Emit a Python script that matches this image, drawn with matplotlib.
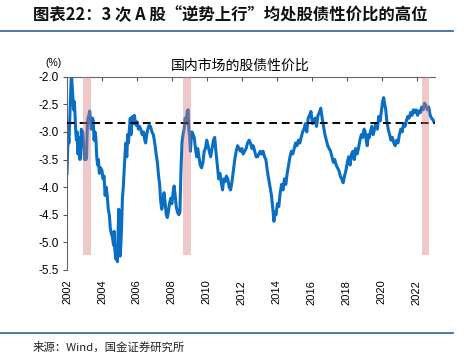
import numpy as np
import matplotlib
matplotlib.use('Agg')
import matplotlib.pyplot as plt

plt.rcParams['font.family'] = ['Liberation Sans', 'Noto Sans CJK SC', 'DejaVu Sans']

# ---- data ----
t = [2002.00, 2002.04, 2002.07, 2002.11, 2002.15, 2002.19, 2002.23, 2002.26, 2002.30, 2002.34,
     2002.38, 2002.42, 2002.46, 2002.50, 2002.54, 2002.58, 2002.62, 2002.66, 2002.70, 2002.74,
     2002.78, 2002.82, 2002.86, 2002.90, 2002.95, 2003.00, 2003.04, 2003.08, 2003.12, 2003.16,
     2003.20, 2003.25, 2003.30, 2003.34, 2003.38, 2003.42, 2003.46, 2003.50, 2003.55, 2003.60,
     2003.65, 2003.70, 2003.75, 2003.80, 2003.85, 2003.92, 2004.00, 2004.06, 2004.12, 2004.18,
     2004.24, 2004.30, 2004.36, 2004.42, 2004.48, 2004.54, 2004.60, 2004.66, 2004.70, 2004.74,
     2004.79, 2004.84, 2004.88, 2004.92, 2004.96, 2005.00, 2005.04, 2005.08, 2005.12, 2005.17,
     2005.22, 2005.27, 2005.32, 2005.37, 2005.42, 2005.47, 2005.52, 2005.57, 2005.62, 2005.66,
     2005.70, 2005.75, 2005.80, 2005.85, 2005.90, 2005.96, 2006.02, 2006.08, 2006.15, 2006.22,
     2006.30, 2006.38, 2006.45, 2006.50, 2006.56, 2006.62, 2006.70, 2006.78, 2006.86, 2006.94,
     2007.02, 2007.10, 2007.17, 2007.24, 2007.30, 2007.36, 2007.42, 2007.48, 2007.55, 2007.62,
     2007.68, 2007.74, 2007.80, 2007.86, 2007.94, 2008.00, 2008.07, 2008.13, 2008.19, 2008.25,
     2008.32, 2008.40, 2008.46, 2008.52, 2008.58, 2008.64, 2008.70, 2008.76, 2008.82, 2008.88,
     2008.93, 2008.97, 2009.02, 2009.06, 2009.10, 2009.15, 2009.22, 2009.28, 2009.35, 2009.42,
     2009.48, 2009.55, 2009.62, 2009.70, 2009.78, 2009.85, 2009.92, 2010.00, 2010.07, 2010.14,
     2010.22, 2010.30, 2010.38, 2010.45, 2010.52, 2010.60, 2010.68, 2010.75, 2010.82, 2010.90,
     2010.97, 2011.05, 2011.12, 2011.20, 2011.28, 2011.36, 2011.44, 2011.52, 2011.60, 2011.68,
     2011.76, 2011.84, 2011.92, 2012.00, 2012.08, 2012.16, 2012.25, 2012.33, 2012.42, 2012.50,
     2012.58, 2012.66, 2012.74, 2012.82, 2012.90, 2012.98, 2013.06, 2013.14, 2013.22, 2013.30,
     2013.38, 2013.46, 2013.54, 2013.62, 2013.70, 2013.78, 2013.84, 2013.90, 2013.96, 2014.04,
     2014.12, 2014.20, 2014.28, 2014.36, 2014.44, 2014.52, 2014.60, 2014.68, 2014.76, 2014.84,
     2014.92, 2015.00, 2015.08, 2015.16, 2015.24, 2015.32, 2015.40, 2015.48, 2015.56, 2015.64,
     2015.72, 2015.80, 2015.88, 2015.96, 2016.04, 2016.12, 2016.20, 2016.28, 2016.36, 2016.44,
     2016.52, 2016.60, 2016.68, 2016.76, 2016.84, 2016.92, 2017.00, 2017.08, 2017.16, 2017.24,
     2017.32, 2017.40, 2017.48, 2017.56, 2017.64, 2017.72, 2017.80, 2017.88, 2017.96, 2018.04,
     2018.12, 2018.20, 2018.28, 2018.36, 2018.44, 2018.52, 2018.60, 2018.68, 2018.76, 2018.84,
     2018.92, 2019.00, 2019.06, 2019.12, 2019.18, 2019.24, 2019.30, 2019.36, 2019.44, 2019.52,
     2019.60, 2019.68, 2019.76, 2019.84, 2019.92, 2020.00, 2020.06, 2020.12, 2020.18, 2020.24,
     2020.30, 2020.38, 2020.46, 2020.54, 2020.62, 2020.70, 2020.78, 2020.86, 2020.94, 2021.02,
     2021.10, 2021.18, 2021.26, 2021.34, 2021.42, 2021.50, 2021.58, 2021.66, 2021.74, 2021.82,
     2021.90, 2021.98, 2022.06, 2022.14, 2022.22, 2022.30, 2022.38, 2022.46, 2022.54, 2022.62,
     2022.70, 2022.78, 2022.86, 2022.94, 2023.00]
v = [-3.75, -3.30, -3.05, -3.20, -2.85, -2.45, -2.10, -1.98, -2.20, -2.40,
     -2.60, -2.45, -2.70, -3.00, -3.15, -3.00, -3.40, -3.20, -3.10, -3.50,
     -3.30, -2.95, -3.10, -3.00, -3.20, -3.50, -3.30, -3.50, -3.45, -2.90,
     -2.75, -2.70, -2.62, -2.80, -2.95, -2.85, -2.75, -2.80, -3.15, -3.00,
     -3.10, -3.45, -3.60, -3.50, -3.75, -3.65, -3.70, -3.85, -3.80, -4.15,
     -4.00, -4.15, -4.40, -4.50, -4.75, -4.85, -4.90, -5.05, -4.80, -5.15,
     -5.30, -5.10, -5.35, -4.90, -4.40, -5.00, -5.25, -5.05, -4.75, -4.20,
     -4.00, -3.70, -3.40, -3.20, -3.45, -3.05, -3.20, -2.95, -2.75, -3.05,
     -2.85, -2.72, -2.85, -2.70, -2.80, -2.88, -2.82, -2.95, -2.90, -2.95,
     -3.05, -3.00, -3.15, -3.20, -3.05, -2.95, -2.88, -2.90, -3.00, -3.05,
     -3.20, -3.40, -3.55, -3.80, -3.95, -4.25, -4.40, -4.30, -4.10, -4.30,
     -4.50, -4.55, -4.45, -4.30, -4.20, -4.30, -4.10, -3.98, -4.15, -4.35,
     -4.45, -4.50, -4.45, -3.70, -3.20, -3.05, -2.95, -2.75, -2.85, -2.62,
     -2.60, -2.95, -3.10, -3.35, -3.15, -3.00, -3.05, -3.10, -3.30, -3.45,
     -3.30, -3.45, -3.60, -3.65, -3.55, -3.35, -3.30, -3.15, -3.25, -3.35,
     -3.45, -3.30, -3.15, -3.10, -3.35, -3.60, -3.85, -3.75, -3.90, -4.05,
     -3.85, -3.90, -3.80, -3.85, -4.00, -4.05, -3.90, -3.70, -3.50, -3.35,
     -3.25, -3.30, -3.35, -3.30, -3.40, -3.35, -3.30, -3.20, -3.15, -3.20,
     -3.30, -3.25, -3.35, -3.45, -3.45, -3.40, -3.35, -3.40, -3.35, -3.45,
     -3.50, -3.70, -3.85, -4.00, -4.15, -4.40, -4.62, -4.45, -4.50, -4.30,
     -4.35, -4.10, -3.95, -4.05, -3.85, -3.95, -3.75, -3.60, -3.45, -3.35,
     -3.40, -3.30, -3.20, -3.25, -3.15, -3.20, -3.10, -3.00, -2.95, -2.85,
     -3.00, -2.75, -2.70, -2.63, -2.85, -2.80, -2.75, -2.90, -2.70, -2.65,
     -2.57, -2.75, -2.90, -3.05, -3.15, -3.25, -3.30, -3.35, -3.45, -3.55,
     -3.50, -3.60, -3.65, -3.70, -3.80, -3.85, -3.92, -3.80, -3.70, -3.55,
     -3.45, -3.60, -3.40, -3.35, -3.50, -3.30, -3.40, -3.30, -3.15, -3.05,
     -3.10, -2.95, -3.00, -3.15, -3.25, -3.05, -3.10, -3.00, -2.90, -3.05,
     -2.95, -2.85, -2.95, -2.72, -2.80, -2.60, -2.45, -2.38, -2.50, -2.60,
     -2.80, -2.95, -3.05, -3.15, -3.10, -3.20, -3.25, -3.15, -3.20, -3.05,
     -2.95, -3.00, -2.85, -2.90, -2.80, -2.72, -2.75, -2.65, -2.70, -2.60,
     -2.65, -2.60, -2.70, -2.62, -2.65, -2.55, -2.60, -2.48, -2.52, -2.60,
     -2.55, -2.70, -2.75, -2.78, -2.82]

avg_level = -2.84
bands = [(2002.93, 2003.37), (2008.63, 2009.09), (2022.29, 2022.70)]
band_low = -5.22
years = list(range(2002, 2023, 2))
yticks = [-2.0, -2.5, -3.0, -3.5, -4.0, -4.5, -5.0, -5.5]

fig = plt.figure(figsize=(4.68, 3.57), dpi=100)
ax = fig.add_axes([0.1432, 0.2437, 0.786, 0.5415])

ax.plot(t, v, color='#0a6fc2', lw=2.2, zorder=2)
ax.plot([2002, 2023.05], [avg_level, avg_level], color='black', lw=1.4,
        ls=(0, (4, 2.5)), zorder=3)
for a, b in bands:
    ax.fill_between([a, b], band_low, -2.0, color='#d97878', alpha=0.4,
                    lw=0, zorder=4)

ax.set_xlim(2002, 2023.05)
ax.set_ylim(-5.5, -2.0)
ax.set_xticks(years)
ax.set_xticklabels([str(y) for y in years], rotation=90, fontsize=8)
ax.set_yticks(yticks)
ax.set_yticklabels(['%.1f' % y for y in yticks], fontsize=8.5)
ax.tick_params(axis='x', top=True, bottom=False, labeltop=False, labelbottom=True,
               direction='in', length=3, color='#555555', pad=7)
ax.tick_params(axis='y', direction='out', length=3, color='#555555', pad=3)
ax.spines['bottom'].set_visible(False)
ax.spines['right'].set_visible(False)
ax.spines['top'].set_color('#666666')
ax.spines['left'].set_color('#666666')

fig.text(53/468, 1 - 63/357, '(%)', fontsize=7.5, ha='center', va='center')
fig.text(240/468, 1 - 66/357, '国内市场的股债性价比', fontsize=10,
         family=['Noto Sans CJK SC', 'DejaVu Sans'], ha='center', va='center')

fig.text(33/468, 1 - 15/357, '图表22：3 次 A 股“逆势上行”均处股债性价比的高位',
         fontsize=11.8, fontweight='bold', family=['Noto Sans CJK SC', 'DejaVu Sans'],
         ha='left', va='center', color='#111111')
fig.add_artist(plt.Line2D([0, 453/468], [1 - 31/357, 1 - 31/357], color='#3c6e99', lw=1.3))
fig.add_artist(plt.Line2D([0, 453/468], [1 - 333/357, 1 - 333/357], color='#3c6e99', lw=1.3))
fig.text(33/468, 1 - 347/357, '来源：Wind，国金证券研究所', fontsize=8.2,
         family=['Noto Sans CJK SC', 'DejaVu Sans'], ha='left', va='center', color='#222222')

fig.savefig('out.png', dpi=100)
